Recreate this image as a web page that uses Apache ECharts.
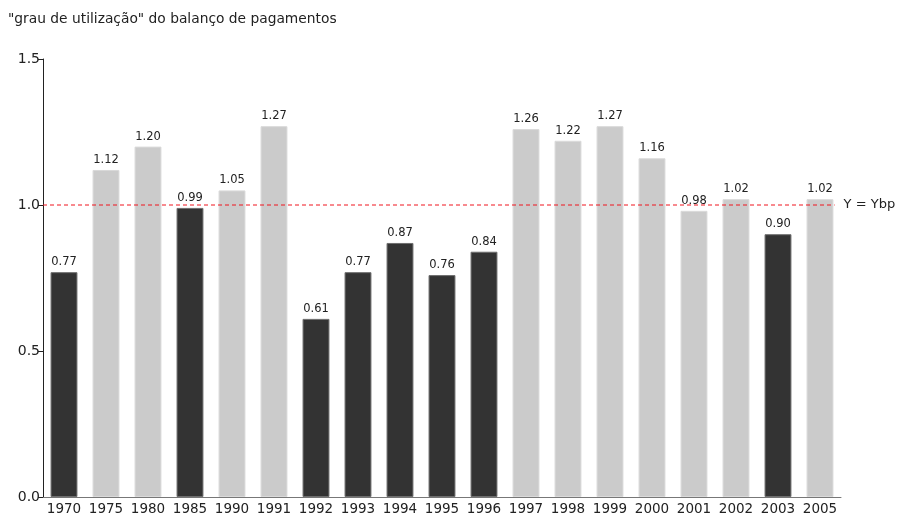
<!DOCTYPE html>
<html>
<head>
<meta charset="utf-8">
<script src="https://cdn.jsdelivr.net/npm/echarts@6/dist/echarts.min.js"></script>
<style>html,body{margin:0;padding:0;background:#fff;}#c{width:899px;height:517px;}</style>
</head>
<body>
<div id="c"></div>
<script>
const titleText = '"grau de utilização" do balanço de pagamentos';
const years = ['1970','1975','1980','1985','1990','1991','1992','1993','1994','1995','1996','1997','1998','1999','2000','2001','2002','2003','2005'];
const values = [0.77,1.12,1.20,0.99,1.05,1.27,0.61,0.77,0.87,0.76,0.84,1.26,1.22,1.27,1.16,0.98,1.02,0.90,1.02];
const isDark = [1,0,0,1,0,0,1,1,1,1,1,0,0,0,0,0,0,1,0];
const refValue = 1.0;
const refLabel = 'Y = Ybp';
const refSpan = [0, 0.992];
const yTicks = [0, 0.5, 1.0, 1.5];

const font = 'DejaVu Sans, Verdana, sans-serif';
const red = '#f0141e';
const chart = echarts.init(document.getElementById('c'));
chart.setOption({
  animation: false,
  title: {
    text: titleText, left: 3, top: 7,
    textStyle: {fontFamily: font, fontSize: 13.8, fontWeight: 'normal', color: '#222'}
  },
  grid: {left: 43, right: 58, top: 59, bottom: 20, containLabel: false},
  xAxis: [{
    type: 'category', data: years,
    axisLine: {lineStyle: {color: '#777', width: 1}},
    axisTick: {show: false},
    axisLabel: {fontFamily: font, fontSize: 13.5, color: '#222', margin: 5, interval: 0}
  }, {
    type: 'value', min: 0, max: 1, show: false
  }],
  yAxis: {
    type: 'value', min: yTicks[0], max: yTicks[yTicks.length - 1], interval: 0.5,
    axisLine: {show: true, lineStyle: {color: '#222', width: 1}},
    axisTick: {show: true, length: 5, lineStyle: {color: '#222'}},
    splitLine: {show: false},
    axisLabel: {fontFamily: font, fontSize: 14, color: '#222', margin: 3,
      formatter: v => v.toFixed(1)}
  },
  series: [{
    type: 'bar',
    barCategoryGap: '36%',
    data: values.map((v, i) => ({
      value: v,
      itemStyle: isDark[i]
        ? {color: '#333333', borderColor: '#6e6e6e', borderWidth: 1}
        : {color: '#cbcbcb', borderColor: '#dadada', borderWidth: 1}
    })),
    label: {
      show: true, position: 'top', distance: 4,
      fontFamily: font, fontSize: 11.5, color: '#222',
      formatter: p => p.value.toFixed(2)
    },
    z: 2
  }, {
    type: 'line',
    xAxisIndex: 1,
    color: red,
    symbol: 'none',
    silent: true,
    lineStyle: {color: red, type: [4, 3], width: 1},
    itemStyle: {color: red},
    data: refSpan.map(x => [x, refValue]),
    endLabel: {show: true, formatter: refLabel, fontFamily: font, fontSize: 13, color: '#222', distance: 9},
    z: 5
  }]
});
</script>
</body>
</html>
